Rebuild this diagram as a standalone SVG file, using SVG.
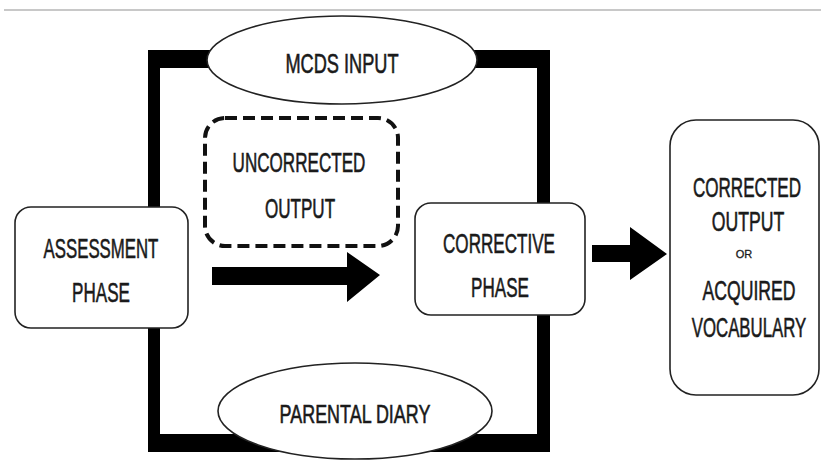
<svg xmlns="http://www.w3.org/2000/svg" width="821" height="468" viewBox="0 0 821 468">
<style>
.t{font-family:"Liberation Sans",Arial,sans-serif;font-size:28px;fill:#1a1a1a;stroke:#1a1a1a;stroke-width:0.6;text-anchor:middle}
.box{fill:#fff;stroke:#222;stroke-width:1.6}
.bar{fill:#000}
</style>
<rect x="0" y="0" width="821" height="468" fill="#fff"/>
<line x1="4" y1="10" x2="821" y2="10" stroke="#c8c8c8" stroke-width="2"/>
<g id="connectors">
<rect class="bar" x="148" y="50" width="402" height="18"/>
<rect class="bar" x="148" y="434" width="402" height="18"/>
<rect class="bar" x="148" y="50" width="12" height="402"/>
<rect class="bar" x="537" y="50" width="13" height="402"/>
<polygon class="bar" points="212,267 347,267 347,252 380,275 347,302 347,285 212,285"/>
<polygon class="bar" points="592,245 630,245 630,227 667,254 630,280 630,262 592,262"/>
</g>
<g id="mcds">
<ellipse class="box" cx="342" cy="60" rx="135" ry="44"/>
<text class="t" transform="translate(342,73) scale(0.65,1)">MCDS INPUT</text>
</g>
<g id="uncorrected">
<rect x="205" y="118" width="193" height="128" rx="20" fill="#fff" stroke="#111" stroke-width="4" stroke-dasharray="12 6"/>
<text class="t" transform="translate(299,172) scale(0.61,1)">UNCORRECTED</text>
<text class="t" transform="translate(300,218) scale(0.61,1)">OUTPUT</text>
</g>
<g id="assessment">
<rect class="box" x="15" y="207" width="173" height="121" rx="16"/>
<text class="t" transform="translate(101,258) scale(0.6,1)">ASSESSMENT</text>
<text class="t" transform="translate(101,302) scale(0.61,1)">PHASE</text>
</g>
<g id="corrective">
<rect class="box" x="415" y="203" width="170" height="112" rx="16"/>
<text class="t" transform="translate(499,253) scale(0.61,1)">CORRECTIVE</text>
<text class="t" transform="translate(500,297) scale(0.61,1)">PHASE</text>
</g>
<g id="result">
<rect class="box" x="670" y="120" width="149" height="275" rx="26"/>
<text class="t" transform="translate(747,197) scale(0.61,1)">CORRECTED</text>
<text class="t" transform="translate(748,231) scale(0.63,1)">OUTPUT</text>
<text class="t" transform="translate(744,258)" style="font-size:11px;stroke-width:0.3">OR</text>
<text class="t" transform="translate(749,300) scale(0.63,1)">ACQUIRED</text>
<text class="t" transform="translate(749,337) scale(0.6,1)">VOCABULARY</text>
</g>
<g id="diary">
<ellipse class="box" cx="355" cy="411" rx="137" ry="48"/>
<text class="t" transform="translate(355,423) scale(0.69,1)" style="font-size:26px">PARENTAL DIARY</text>
</g>
</svg>
